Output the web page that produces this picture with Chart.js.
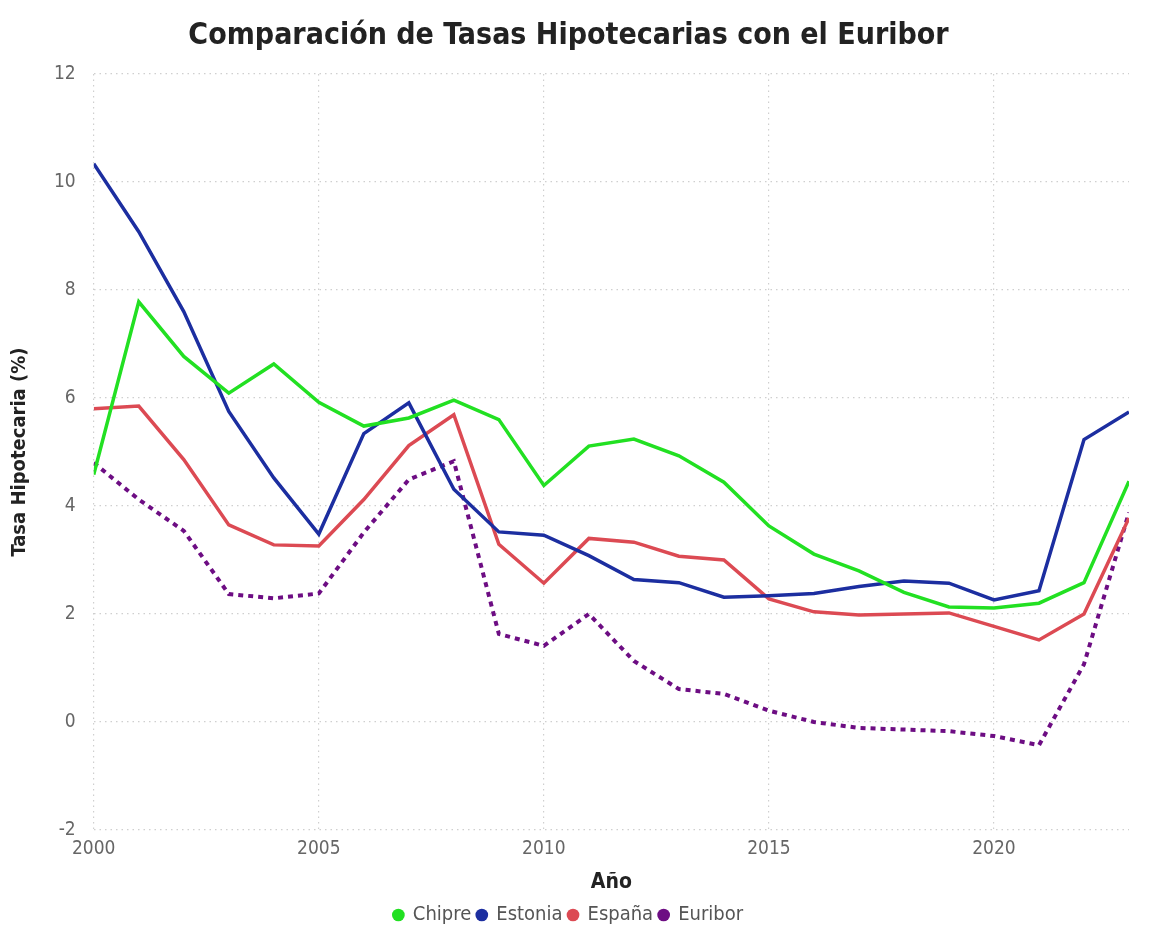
<!DOCTYPE html>
<html>
<head>
<meta charset="utf-8">
<script src="https://cdn.jsdelivr.net/npm/chart.js@4/dist/chart.umd.min.js"></script>
<style>
  html, body { margin: 0; padding: 0; background: #fff; }
  #wrap { width: 1157px; height: 927px; }
</style>
</head>
<body>
<div id="wrap"><canvas id="tasasChart"></canvas></div>
<script>
// datos
const years = [2000, 2001, 2002, 2003, 2004, 2005, 2006, 2007, 2008, 2009, 2010, 2011,
  2012, 2013, 2014, 2015, 2016, 2017, 2018, 2019, 2020, 2021, 2022, 2023];
const chipre = [4.58, 7.78, 6.77, 6.09, 6.63, 5.92, 5.48, 5.63, 5.96, 5.60, 4.38, 5.11,
  5.24, 4.93, 4.44, 3.63, 3.11, 2.80, 2.40, 2.13, 2.11, 2.20, 2.58, 4.46];
const estonia = [10.34, 9.08, 7.60, 5.75, 4.52, 3.48, 5.34, 5.91, 4.31, 3.52, 3.46, 3.08,
  2.64, 2.58, 2.31, 2.34, 2.38, 2.51, 2.61, 2.57, 2.26, 2.43, 5.23, 5.74];
const espana = [5.80, 5.85, 4.86, 3.65, 3.28, 3.26, 4.12, 5.12, 5.69, 3.29, 2.57, 3.40,
  3.33, 3.07, 3.00, 2.28, 2.04, 1.98, 2.00, 2.02, 1.77, 1.52, 2.00, 3.78];
const euribor = [4.80, 4.12, 3.54, 2.37, 2.29, 2.38, 3.51, 4.49, 4.83, 1.63, 1.41, 2.00,
  1.13, 0.61, 0.52, 0.21, 0.00, -0.11, -0.14, -0.17, -0.26, -0.43, 1.07, 3.88];
const yTicks = [-2, 0, 2, 4, 6, 8, 10, 12];
const xTicks = [2000, 2005, 2010, 2015, 2020];

const seriesNames = ["Chipre", "Estonia", "España", "Euribor"];
const seriesColors = ["#22e022", "#1c2ea0", "#dc4a53", "#6d0d83"];

function toPoints(values) {
  return years.map((y, i) => ({ x: y, y: values[i] }));
}

const narrow = "'Liberation Sans Narrow', 'DejaVu Sans Condensed', sans-serif";
const gridColor = "#cfcfcf";
const tickFont = { family: narrow, size: 19 };

const ctx = document.getElementById("tasasChart").getContext("2d");
new Chart(ctx, {
  type: "line",
  data: {
    datasets: [chipre, estonia, espana, euribor].map((vals, i) => ({
      label: seriesNames[i],
      data: toPoints(vals),
      borderColor: seriesColors[i],
      backgroundColor: seriesColors[i],
      borderWidth: i === 3 ? 4 : 3.5,
      borderDash: i === 3 ? [5, 5] : [],
      pointRadius: 0,
      pointStyle: "circle",
      tension: 0,
    })),
  },
  options: {
    responsive: true,
    maintainAspectRatio: false,
    animation: false,
    layout: { padding: { left: 8, right: 28, top: 6, bottom: -8 } },
    plugins: {
      title: {
        display: true,
        text: "Comparación de Tasas Hipotecarias con el Euribor",
        color: "#222",
        font: { family: narrow, size: 30, weight: "bold" },
        padding: { top: 12, bottom: 20 },
      },
      legend: {
        position: "bottom",
        labels: {
          usePointStyle: true,
          boxWidth: 9,
          boxHeight: 9,
          padding: 6,
          color: "#555",
          font: { family: narrow, size: 20 },
          generateLabels: (chart) => {
            const items = Chart.defaults.plugins.legend.labels.generateLabels(chart);
            items.forEach((it) => {
              it.lineDash = [];
              it.lineWidth = 0;
              it.pointStyle = "circle";
            });
            return items;
          },
        },
      },
      tooltip: { enabled: false },
    },
    scales: {
      x: {
        type: "linear",
        min: 2000,
        max: 2023,
        afterBuildTicks: (axis) => { axis.ticks = xTicks.map((v) => ({ value: v })); },
        ticks: {
          color: "#666",
          font: tickFont,
          padding: 8,
          callback: (v) => String(v),
        },
        grid: { color: gridColor, lineWidth: 1.2, drawTicks: false },
        border: { display: false, dash: [1.5, 4] },
        title: {
          display: true,
          text: "Año",
          color: "#222",
          font: { family: narrow, size: 21, weight: "bold" },
          padding: { top: 1, bottom: 4 },
        },
      },
      y: {
        min: -2,
        max: 12,
        afterBuildTicks: (axis) => { axis.ticks = yTicks.map((v) => ({ value: v })); },
        ticks: {
          color: "#666",
          font: tickFont,
          padding: 18,
        },
        grid: { color: gridColor, lineWidth: 1.2, drawTicks: false },
        border: { display: false, dash: [1.5, 4] },
        title: {
          display: true,
          text: "Tasa Hipotecaria (%)",
          color: "#222",
          font: { family: narrow, size: 20, weight: "bold" },
          padding: { top: 0, bottom: 4 },
        },
      },
    },
  },
});
</script>
</body>
</html>
